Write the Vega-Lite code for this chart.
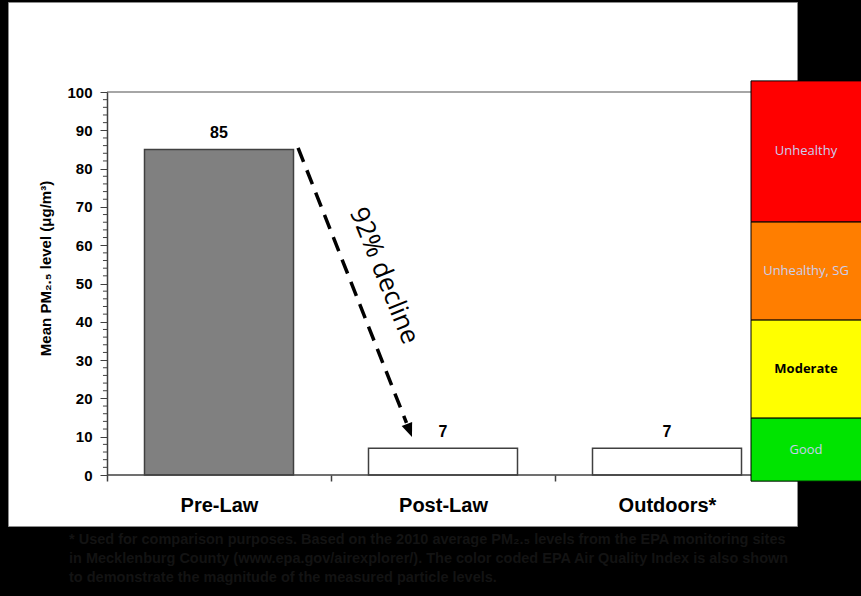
{
  "$schema": "https://vega.github.io/schema/vega-lite/v6.json",
  "autosize": {"type": "none"},
  "padding": {"left": 8, "top": 2, "right": 64, "bottom": 70},
  "width": 789,
  "height": 524,
  "background": "black",
  "config": {"view": {"fill": "white", "stroke": "#8c8c8c", "strokeWidth": 1}},
  "title": {
    "text": [
      "* Used for comparison purposes. Based on the 2010 average PM₂.₅ levels from the EPA monitoring sites",
      "in Mecklenburg County (www.epa.gov/airexplorer/). The color coded EPA Air Quality Index is also shown",
      "to demonstrate the magnitude of the measured particle levels."
    ],
    "orient": "bottom",
    "anchor": "start",
    "frame": "group",
    "dx": 61,
    "offset": 7,
    "font": "Liberation Sans",
    "fontSize": 14.5,
    "fontWeight": "bold",
    "color": "#131313",
    "lineHeight": 19,
    "baseline": "top"
  },
  "datasets": {
    "pm": [
      {"period": "Pre-Law", "pm25": 85},
      {"period": "Post-Law", "pm25": 7},
      {"period": "Outdoors*", "pm25": 7}
    ],
    "aqi": [
      {"level": "Good", "low": -1.6, "high": 14.9},
      {"level": "Moderate", "low": 14.9, "high": 40.5},
      {"level": "Unhealthy, SG", "low": 40.5, "high": 66.1},
      {"level": "Unhealthy", "low": 66.1, "high": 102.9}
    ],
    "arrow": [
      {"along": 0.853, "pm25": 85.4},
      {"along": 1.337, "pm25": 13.6}
    ],
    "arrowHead": [{"along": 1.3502, "pm25": 11.62}],
    "note": [{"along": 1.237, "pm25": 52, "label": "92% decline"}],
    "edge": [{"top": 100, "bottom": 0}],
    "minor": [
      {"tick": 2}, {"tick": 4}, {"tick": 6}, {"tick": 8}, {"tick": 12}, {"tick": 14}, {"tick": 16}, {"tick": 18},
      {"tick": 22}, {"tick": 24}, {"tick": 26}, {"tick": 28}, {"tick": 32}, {"tick": 34}, {"tick": 36}, {"tick": 38},
      {"tick": 42}, {"tick": 44}, {"tick": 46}, {"tick": 48}, {"tick": 52}, {"tick": 54}, {"tick": 56}, {"tick": 58},
      {"tick": 62}, {"tick": 64}, {"tick": 66}, {"tick": 68}, {"tick": 72}, {"tick": 74}, {"tick": 76}, {"tick": 78},
      {"tick": 82}, {"tick": 84}, {"tick": 86}, {"tick": 88}, {"tick": 92}, {"tick": 94}, {"tick": 96}, {"tick": 98}
    ]
  },
  "layer": [
    {
      "data": {"name": "pm"},
      "layer": [
        {
          "mark": {"type": "bar", "width": 149, "stroke": "#404040", "strokeWidth": 1.5},
          "encoding": {
            "x": {
              "field": "period", "type": "nominal", "sort": null,
              "scale": {"range": [99, 771], "paddingInner": 0, "paddingOuter": 0},
              "axis": {
                "title": null, "labelAngle": 0, "labelFont": "Liberation Sans", "labelFontSize": 20,
                "labelFontWeight": "bold", "labelColor": "black", "labelPadding": 14, "labelBaseline": "top",
                "tickSize": 6, "tickColor": "#404040", "tickWidth": 1.5, "tickOffset": -112, "labelOffset": 112,
                "domain": false, "offset": -51, "grid": false, "zindex": 1
              }
            },
            "y": {
              "field": "pm25", "type": "quantitative",
              "scale": {"domain": [0, 100], "nice": false, "zero": true, "range": [473, 90]},
              "axis": {
                "title": "Mean PM₂.₅ level (μg/m³)", "titleFont": "Liberation Sans", "titleFontSize": 15,
                "titleFontWeight": "bold", "titleColor": "black", "titleX": -62, "titleY": 266,
                "titleBaseline": "middle", "titleAlign": "center", "titleAngle": 270,
                "values": [0, 10, 20, 30, 40, 50, 60, 70, 80, 90, 100],
                "tickSize": 7,
                "labelFont": "Liberation Sans", "labelFontSize": 15, "labelFontWeight": "bold",
                "labelColor": "black", "labelPadding": 8,
                "domainColor": "#404040", "domainWidth": 1.5, "tickColor": "#404040",
                "offset": -99, "grid": false, "zindex": 1
              }
            },
            "fill": {
              "field": "period", "type": "nominal",
              "scale": {"domain": ["Pre-Law", "Post-Law", "Outdoors*"], "range": ["#808080", "#ffffff", "#ffffff"]},
              "legend": null
            }
          }
        },
        {
          "mark": {"type": "text", "dy": -16, "baseline": "middle", "font": "Liberation Sans", "fontSize": 16, "fontWeight": "bold", "color": "black"},
          "encoding": {
            "x": {"field": "period", "type": "nominal", "sort": null},
            "y": {"field": "pm25", "type": "quantitative"},
            "text": {"field": "pm25", "type": "quantitative"}
          }
        }
      ]
    },
    {
      "layer": [
        {
          "data": {"name": "edge"},
          "mark": {"type": "rule", "color": "#a6a6a6", "strokeWidth": 2},
          "encoding": {
            "x": {"datum": 0, "type": "quantitative", "scale": {"domain": [0, 3], "range": [99, 771], "nice": false, "zero": false}, "axis": null},
            "x2": {"datum": 2.9},
            "y": {"field": "top", "type": "quantitative", "scale": {"domain": [0, 100], "nice": false, "range": [473, 90]}}
          }
        },
        {
          "data": {"name": "edge"},
          "mark": {"type": "rule", "color": "#404040", "strokeWidth": 1.5},
          "encoding": {
            "x": {"datum": 0, "type": "quantitative", "scale": {"domain": [0, 3], "range": [99, 771], "nice": false, "zero": false}, "axis": null},
            "x2": {"datum": 2.9},
            "y": {"field": "bottom", "type": "quantitative", "scale": {"domain": [0, 100], "nice": false, "range": [473, 90]}}
          }
        },
        {
          "data": {"name": "minor"},
          "mark": {"type": "rule", "color": "#404040", "strokeWidth": 1},
          "encoding": {
            "x": {"datum": -0.018, "type": "quantitative", "scale": {"domain": [0, 3], "range": [99, 771], "nice": false, "zero": false}, "axis": null},
            "x2": {"datum": 0},
            "y": {"field": "tick", "type": "quantitative", "scale": {"domain": [0, 100], "nice": false, "range": [473, 90]}}
          }
        },
        {
          "data": {"name": "aqi"},
          "mark": {"type": "rect", "stroke": "black", "strokeWidth": 1},
          "encoding": {
            "x": {"datum": 2.875, "type": "quantitative", "scale": {"domain": [0, 3], "range": [99, 771], "nice": false, "zero": false}, "axis": null},
            "x2": {"datum": 3.375},
            "y": {"field": "low", "type": "quantitative", "scale": {"domain": [0, 100], "nice": false, "range": [473, 90]}},
            "y2": {"field": "high"},
            "fill": {
              "field": "level", "type": "nominal",
              "scale": {"domain": ["Good", "Moderate", "Unhealthy, SG", "Unhealthy"], "range": ["#00e400", "#ffff00", "#ff7e00", "#ff0000"]},
              "legend": null
            }
          }
        },
        {
          "data": {"name": "aqi"},
          "transform": [
            {"filter": "datum.level !== 'Moderate'"},
            {"calculate": "(datum.low + datum.high) / 2", "as": "middle"}
          ],
          "mark": {"type": "text", "font": "Open Sans", "fontSize": 13, "color": "#c9cfee", "align": "center", "baseline": "middle"},
          "encoding": {
            "x": {"datum": 3.1205, "type": "quantitative", "scale": {"domain": [0, 3], "range": [99, 771], "nice": false, "zero": false}, "axis": null},
            "y": {"field": "middle", "type": "quantitative", "scale": {"domain": [0, 100], "nice": false, "range": [473, 90]}},
            "text": {"field": "level"}
          }
        },
        {
          "data": {"name": "aqi"},
          "transform": [
            {"filter": "datum.level === 'Moderate'"},
            {"calculate": "(datum.low + datum.high) / 2", "as": "middle"}
          ],
          "mark": {"type": "text", "font": "Open Sans", "fontSize": 13, "fontWeight": "bold", "color": "black", "align": "center", "baseline": "middle"},
          "encoding": {
            "x": {"datum": 3.1205, "type": "quantitative", "scale": {"domain": [0, 3], "range": [99, 771], "nice": false, "zero": false}, "axis": null},
            "y": {"field": "middle", "type": "quantitative", "scale": {"domain": [0, 100], "nice": false, "range": [473, 90]}},
            "text": {"field": "level"}
          }
        },
        {
          "data": {"name": "arrow"},
          "mark": {"type": "line", "color": "black", "strokeWidth": 3.5, "strokeDash": [15, 9]},
          "encoding": {
            "x": {"field": "along", "type": "quantitative", "scale": {"domain": [0, 3], "range": [99, 771], "nice": false, "zero": false}, "axis": null},
            "y": {"field": "pm25", "type": "quantitative", "scale": {"domain": [0, 100], "nice": false, "range": [473, 90]}}
          }
        },
        {
          "data": {"name": "arrowHead"},
          "mark": {"type": "point", "shape": "M-0.8,-1L0.8,-1L0,1Z", "filled": true, "color": "black", "opacity": 1, "size": 196, "angle": 338.7},
          "encoding": {
            "x": {"field": "along", "type": "quantitative", "scale": {"domain": [0, 3], "range": [99, 771], "nice": false, "zero": false}, "axis": null},
            "y": {"field": "pm25", "type": "quantitative", "scale": {"domain": [0, 100], "nice": false, "range": [473, 90]}}
          }
        },
        {
          "data": {"name": "note"},
          "mark": {"type": "text", "angle": 68, "font": "Open Sans", "fontSize": 26, "align": "center", "baseline": "middle", "color": "black"},
          "encoding": {
            "x": {"field": "along", "type": "quantitative", "scale": {"domain": [0, 3], "range": [99, 771], "nice": false, "zero": false}, "axis": null},
            "y": {"field": "pm25", "type": "quantitative", "scale": {"domain": [0, 100], "nice": false, "range": [473, 90]}},
            "text": {"field": "label"}
          }
        }
      ]
    }
  ],
  "resolve": {"scale": {"x": "independent", "fill": "independent"}}
}
